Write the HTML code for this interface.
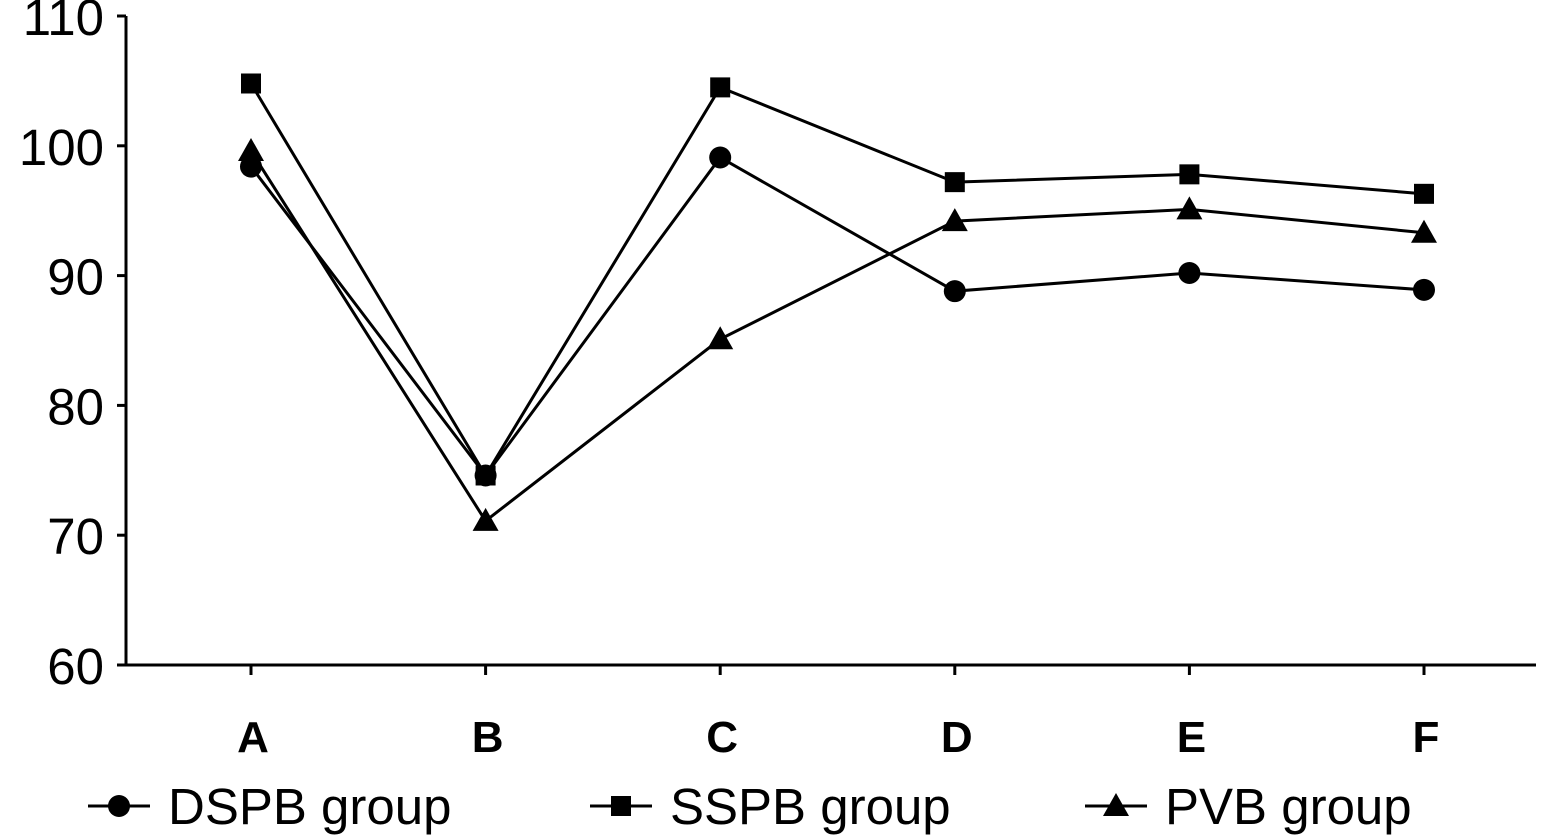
<!DOCTYPE html>
<html><head><meta charset="utf-8"><style>
html,body{margin:0;padding:0;background:#fff;}
svg{display:block;font-family:"Liberation Sans","DejaVu Sans",sans-serif;}
</style></head><body>
<svg id="chart" width="1550" height="836" viewBox="0 0 1550 836" xmlns="http://www.w3.org/2000/svg">
<g id="axes"></g>
<g id="series"></g>
<g id="legend"></g>
</svg>
<script>
const categories = ["A","B","C","D","E","F"];
const yTicks = [60,70,80,90,100,110];
const dspb = [98.4,74.6,99.1,88.8,90.2,88.9];
const sspb = [104.8,74.6,104.5,97.2,97.8,96.3];
const pvb = [99.6,71.1,85.1,94.2,95.1,93.3];
const seriesNames = ["DSPB group","SSPB group","PVB group"];

const NS="http://www.w3.org/2000/svg";
const L=126,R=1536,T=16,B=665,yMin=60,yMax=110;
const x0=251,dx=234.6;
function xs(i){return x0+i*dx;}
function ys(v){return B-(v-yMin)/(yMax-yMin)*(B-T);}
function mk(tag,attrs,parent){const e=document.createElementNS(NS,tag);for(const k in attrs)e.setAttribute(k,attrs[k]);parent.appendChild(e);return e;}
const axes=document.getElementById('axes');
let e=mk('line',{x1:L,y1:T,x2:L,y2:B,stroke:'#000','stroke-width':3},axes);


e=mk('line',{x1:L,y1:B,x2:R,y2:B,stroke:'#000','stroke-width':3},axes);


yTicks.forEach(v=>{
  const y=ys(v);
  let t=mk('line',{x1:L-9,y1:y,x2:L,y2:y,stroke:'#000','stroke-width':3},axes);
  
  
  let tx=mk('text',{x:104,y:y+19,'text-anchor':'end','font-size':51,fill:'#000'},axes);
  tx.textContent=v;
  
  
});
categories.forEach((c,i)=>{
  const x=xs(i);
  let t=mk('line',{x1:x,y1:B,x2:x,y2:B+10,stroke:'#000','stroke-width':3},axes);
  
  
  let tx=mk('text',{x:x+2,y:752,'text-anchor':'middle','font-size':44,'font-weight':'bold',fill:'#000'},axes);
  tx.textContent=c;
  
  
});
function marker(type,x,y,parent){
  let m;
  if(type==='circle')m=mk('circle',{cx:x,cy:y,r:11,fill:'#000'},parent);
  else if(type==='square')m=mk('rect',{x:x-10,y:y-10,width:20,height:20,fill:'#000'},parent);
  else m=mk('polygon',{points:`${x},${y-13} ${x+13},${y+10} ${x-13},${y+10}`,fill:'#000'},parent);
  return m;
}
const ser=document.getElementById('series');
const all=[[dspb,'circle','dspb'],[sspb,'square','sspb'],[pvb,'triangle','pvb']];
all.forEach(([vals,type,name])=>{
  const g=mk('g',{},ser);
  
  
  const pl=mk('polyline',{points:vals.map((v,i)=>xs(i)+','+ys(v)).join(' '),fill:'none',stroke:'#000','stroke-width':3},g);
  
  
  vals.forEach((v,i)=>{
    const m=marker(type,xs(i),ys(v),g);
    
    
  });
});
const leg=document.getElementById('legend');
const legX=[88,590,1085],types=['circle','square','triangle'];
seriesNames.forEach((n,i)=>{
  const g=mk('g',{},leg);
  
  
  const x=legX[i],y=806;
  mk('line',{x1:x,y1:y,x2:x+62,y2:y,stroke:'#000','stroke-width':3},g);
  marker(types[i],x+31,y,g);
  const t=mk('text',{x:x+80,y:y+18,'font-size':51,fill:'#000'},g);
  t.textContent=n;
});
</script>
</body></html>
